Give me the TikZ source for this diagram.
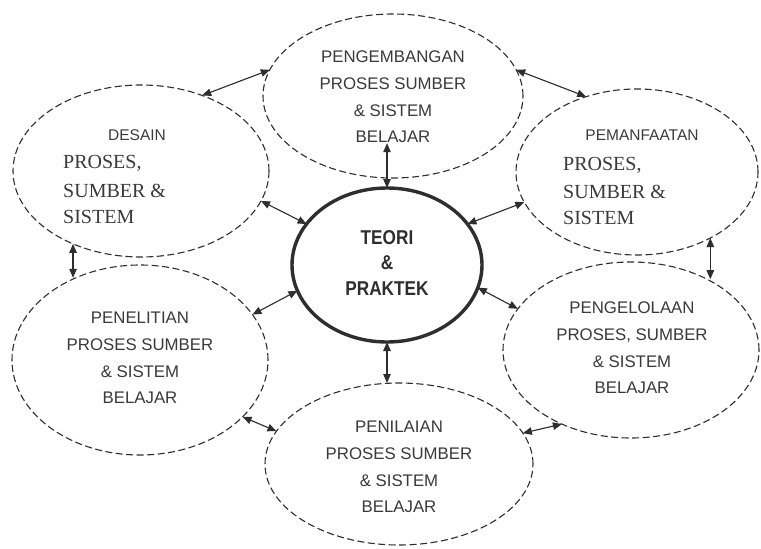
\documentclass[tikz,border=0pt]{standalone}
\usepackage{fontspec}
\setmainfont{Liberation Serif}
\newfontfamily\sansf{Liberation Sans}
\newfontfamily\narrowsans[FakeStretch=0.86]{Liberation Sans}
\newfontfamily\serf{Liberation Serif}
\usetikzlibrary{shapes.geometric,arrows.meta}
\definecolor{ink}{HTML}{2E2E2E}
\definecolor{txt}{HTML}{3A3A3A}
\tikzset{
  ell/.style={ellipse, draw=ink, line width=1.1pt, dash pattern=on 7pt off 3.5pt, inner sep=0pt, outer sep=0pt},
  core/.style={ellipse, draw=ink, line width=3.4pt, inner sep=0pt, outer sep=0pt},
  sanstxt/.style={align=center, text=txt, inner sep=0pt, font={\sansf\fontsize{16.8}{26.7}\selectfont}},
  headtxt/.style={text=txt, inner sep=0pt, font={\sansf\fontsize{15.5}{18}\selectfont}},
  seriftxt/.style={anchor=west, text=txt, inner sep=0pt, font={\serf\fontsize{20}{22}\selectfont}},
  coretxt/.style={align=center, text=ink, inner sep=0pt, font={\narrowsans\bfseries\fontsize{20}{25.5}\selectfont}},
  arr/.style={{Triangle[length=9pt,width=7.5pt]}-{Triangle[length=9pt,width=7.5pt]}, line width=1.1pt, draw=ink, fill=ink}
}
\begin{document}
\begin{tikzpicture}[x=1pt,y=-1pt]
\useasboundingbox[fill=white] (0,0) rectangle (761,549);
% ellipses
\node[ell, minimum width=260pt, minimum height=164pt] (peng) at (393,96) {};
\node[ell, minimum width=256pt, minimum height=172pt] (desain) at (141,171) {};
\node[ell, minimum width=242pt, minimum height=166pt] (manfaat) at (637,172) {};
\node[core, minimum width=190pt, minimum height=154pt] (teori) at (387,265) {};
\node[ell, minimum width=256pt, minimum height=190pt] (teliti) at (140,360) {};
\node[ell, minimum width=256pt, minimum height=176pt] (kelola) at (631,350) {};
\node[ell, minimum width=268pt, minimum height=162pt] (nilai) at (399,464) {};
% texts
\node[sanstxt] (tpeng) at (393,97) {PENGEMBANGAN\\PROSES SUMBER\\\& SISTEM\\BELAJAR};
\node[sanstxt] (tteliti) at (140,358) {PENELITIAN\\PROSES SUMBER\\\& SISTEM\\BELAJAR};
\node[sanstxt] (tkelola) at (632,348) {PENGELOLAAN\\PROSES, SUMBER\\\& SISTEM\\BELAJAR};
\node[sanstxt] (tnilai) at (399,467) {PENILAIAN\\PROSES SUMBER\\\& SISTEM\\BELAJAR};
\node[coretxt] (tteori) at (387,263) {TEORI\\\&\\PRAKTEK};
\node[headtxt] (d0) at (137,135) {DESAIN};
\node[seriftxt] (d1) at (63,163) {PROSES,};
\node[seriftxt] (d2) at (63,191) {SUMBER \&};
\node[seriftxt] (d3) at (63,217) {SISTEM};
\node[headtxt] (m0) at (642,135) {PEMANFAATAN};
\node[seriftxt] (m1) at (563,165) {PROSES,};
\node[seriftxt] (m2) at (563,192) {SUMBER \&};
\node[seriftxt] (m3) at (563,218) {SISTEM};
% connectors
\draw[arr] (desain.51.9) -- (peng.168.9);
\draw[arr] (peng.12.6) -- (manfaat.124);
\draw[arr] (desain.-14.7) -- (teori.153.4);
\draw[arr] (teori.north) -- (teori.north |- tpeng.south);
\draw[arr] (teori.27.4) -- (manfaat.195.5);
\draw[arr] (desain.227.5) -- (desain.227.5 |- teliti.128.8);
\draw[arr] (manfaat.-42.9) -- (manfaat.-42.9 |- kelola.43.1);
\draw[arr] (teori.196.6) -- (teliti.22.6);
\draw[arr] (teori.-14.2) -- (kelola.160.7);
\draw[arr] (teori.south) -- (teori.south |- nilai.north);
\draw[arr] (teliti.-29) -- (nilai.165.5);
\draw[arr] (kelola.227.8) -- (nilai.14);
\end{tikzpicture}
\end{document}
